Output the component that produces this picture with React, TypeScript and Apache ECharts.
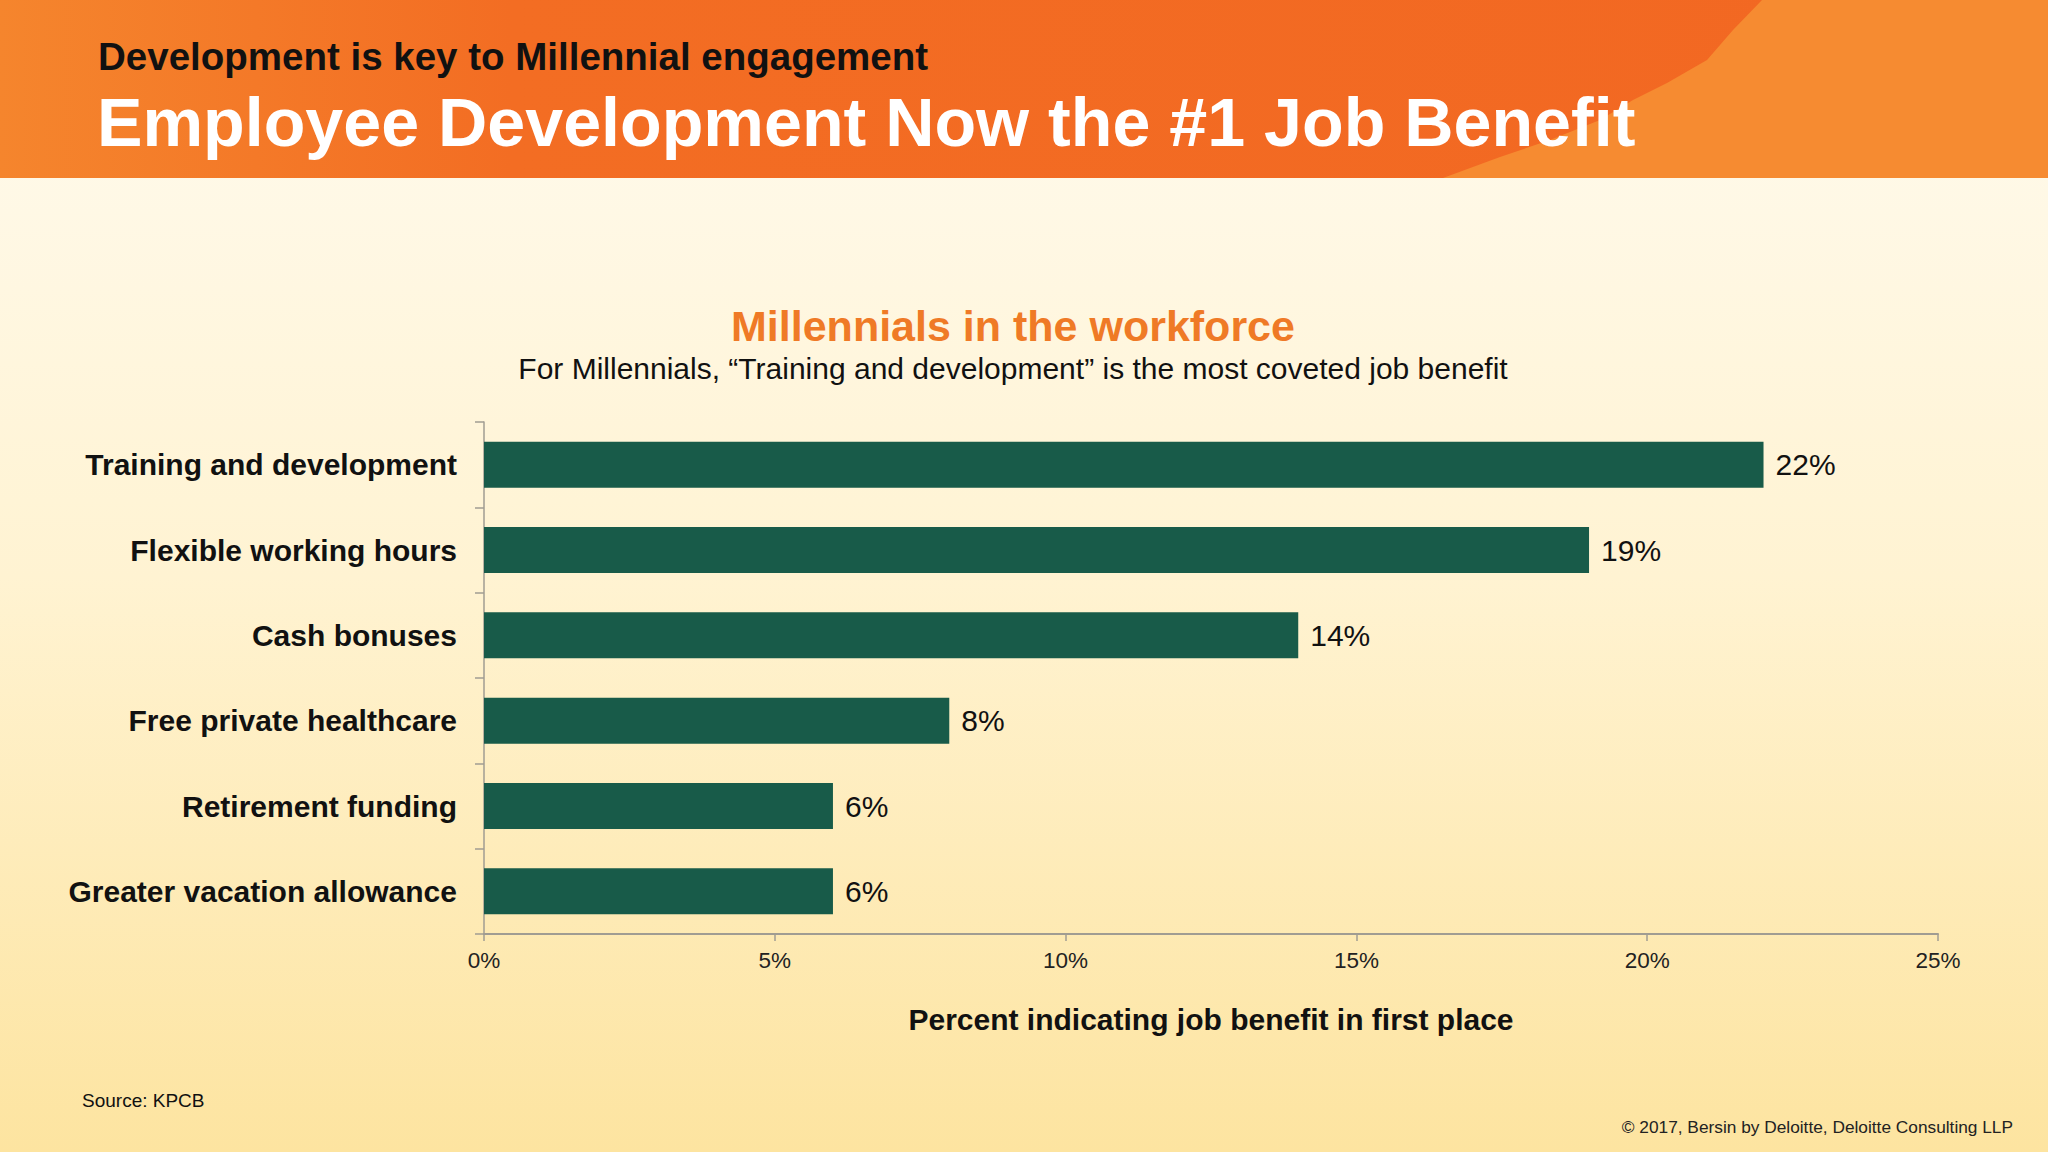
import { useEffect, useRef } from "react";
import * as echarts from "echarts";

const categories = [
    "Training and development",
    "Flexible working hours",
    "Cash bonuses",
    "Free private healthcare",
    "Retirement funding",
    "Greater vacation allowance",
];
const shares = [22, 19, 14, 8, 6, 6];
const xTicks = { min: 0, max: 25, interval: 5 };

const FONT = '"Liberation Sans", Arial, sans-serif';

export default function App() {
    const chartRef = useRef<HTMLDivElement | null>(null);

    useEffect(() => {
        if (!chartRef.current) return;
        document.body.style.margin = "0";
        const chart = echarts.init(chartRef.current, undefined, { renderer: "svg" });

        const option: any = {
            animation: false,
            backgroundColor: {
                type: "linear",
                x: 0, y: 0, x2: 0, y2: 1,
                colorStops: [
                    { offset: 0, color: "#fffbf0" },
                    { offset: 0.5, color: "#fff3d2" },
                    { offset: 1, color: "#fde4a0" },
                ],
            },
            textStyle: { fontFamily: FONT },
            graphic: {
                elements: [
                    // header band
                    {
                        type: "rect",
                        shape: { x: 0, y: 0, width: 2048, height: 178 },
                        style: {
                            fill: {
                                type: "linear",
                                x: 0, y: 0, x2: 1, y2: 0,
                                colorStops: [
                                    { offset: 0, color: "#f5852d" },
                                    { offset: 0.25, color: "#f36d23" },
                                    { offset: 1, color: "#f26722" },
                                ],
                            },
                        },
                        z: 1,
                    },
                    {
                        type: "polygon",
                        shape: {
                            points: [
                                [1762, 0], [2048, 0], [2048, 178], [1443, 178],
                                [1500, 157], [1550, 140], [1600, 120], [1633, 100],
                                [1667, 83], [1707, 60], [1733, 30],
                            ],
                        },
                        style: { fill: "#f68b31" },
                        z: 2,
                    },
                    {
                        type: "text",
                        x: 98, y: 56,
                        style: {
                            text: "Development is key to Millennial engagement",
                            font: `bold 38.5px ${FONT}`,
                            fill: "#111111",
                            textVerticalAlign: "middle", verticalAlign: "middle",
                        },
                        z: 3,
                    },
                    {
                        type: "text",
                        x: 97, y: 122,
                        style: {
                            text: "Employee Development Now the #1 Job Benefit",
                            font: `bold 68.2px ${FONT}`,
                            fill: "#ffffff",
                            textVerticalAlign: "middle", verticalAlign: "middle",
                        },
                        z: 3,
                    },
                    // chart heading
                    {
                        type: "text",
                        x: 1013, y: 326,
                        style: {
                            text: "Millennials in the workforce",
                            font: `bold 43px ${FONT}`,
                            fill: "#ef7a26",
                            textAlign: "center", align: "center",
                            textVerticalAlign: "middle", verticalAlign: "middle",
                        },
                    },
                    {
                        type: "text",
                        x: 1013, y: 368,
                        style: {
                            text: "For Millennials, \u201cTraining and development\u201d is the most coveted job benefit",
                            font: `30px ${FONT}`,
                            fill: "#111111",
                            textAlign: "center", align: "center",
                            textVerticalAlign: "middle", verticalAlign: "middle",
                        },
                    },
                    // footer
                    {
                        type: "text",
                        x: 82, y: 1100,
                        style: {
                            text: "Source: KPCB",
                            font: `19px ${FONT}`,
                            fill: "#111111",
                            textVerticalAlign: "middle", verticalAlign: "middle",
                        },
                    },
                    {
                        type: "text",
                        x: 2013, y: 1127,
                        style: {
                            text: "\u00a9 2017, Bersin by Deloitte, Deloitte Consulting LLP",
                            font: `17.3px ${FONT}`,
                            fill: "#222222",
                            textAlign: "right", align: "right",
                            textVerticalAlign: "middle", verticalAlign: "middle",
                        },
                    },
                ],
            },
            grid: { left: 484, right: 110, top: 422, bottom: 218, containLabel: false },
            xAxis: {
                type: "value",
                min: xTicks.min,
                max: xTicks.max,
                interval: xTicks.interval,
                name: "Percent indicating job benefit in first place",
                nameLocation: "middle",
                nameGap: 70,
                nameTextStyle: { fontSize: 30, fontWeight: "bold", color: "#111111", fontFamily: FONT },
                axisLine: { show: true, lineStyle: { color: "#a09c92", width: 2 } },
                axisTick: { show: true, length: 7, lineStyle: { color: "#a09c92", width: 1.5 } },
                axisLabel: { formatter: "{value}%", fontSize: 22.5, color: "#222222", margin: 15, fontFamily: FONT },
                splitLine: { show: false },
            },
            yAxis: {
                type: "category",
                data: categories,
                inverse: true,
                axisLine: { show: true, lineStyle: { color: "#a09c92", width: 1.5 } },
                axisTick: { show: true, length: 9, interval: 0, lineStyle: { color: "#a09c92", width: 1.5 } },
                axisLabel: { fontSize: 30, fontWeight: "bold", color: "#111111", margin: 27, fontFamily: FONT },
                splitLine: { show: false },
            },
            series: [
                {
                    type: "bar",
                    data: shares,
                    barWidth: "54%",
                    itemStyle: { color: "#185b49" },
                    label: {
                        show: true,
                        position: "right",
                        distance: 12,
                        formatter: "{c}%",
                        fontSize: 30,
                        color: "#111111",
                        fontFamily: FONT,
                    },
                },
            ],
        };

        chart.setOption(option);
        const handleResize = () => chart.resize();
        window.addEventListener("resize", handleResize);
        return () => {
            window.removeEventListener("resize", handleResize);
            chart.dispose();
        };
    }, []);

    return (
        <div
            ref={chartRef}
            style={{ position: "absolute", left: 0, top: 0, width: "2048px", height: "1152px" }}
        />
    );
}
